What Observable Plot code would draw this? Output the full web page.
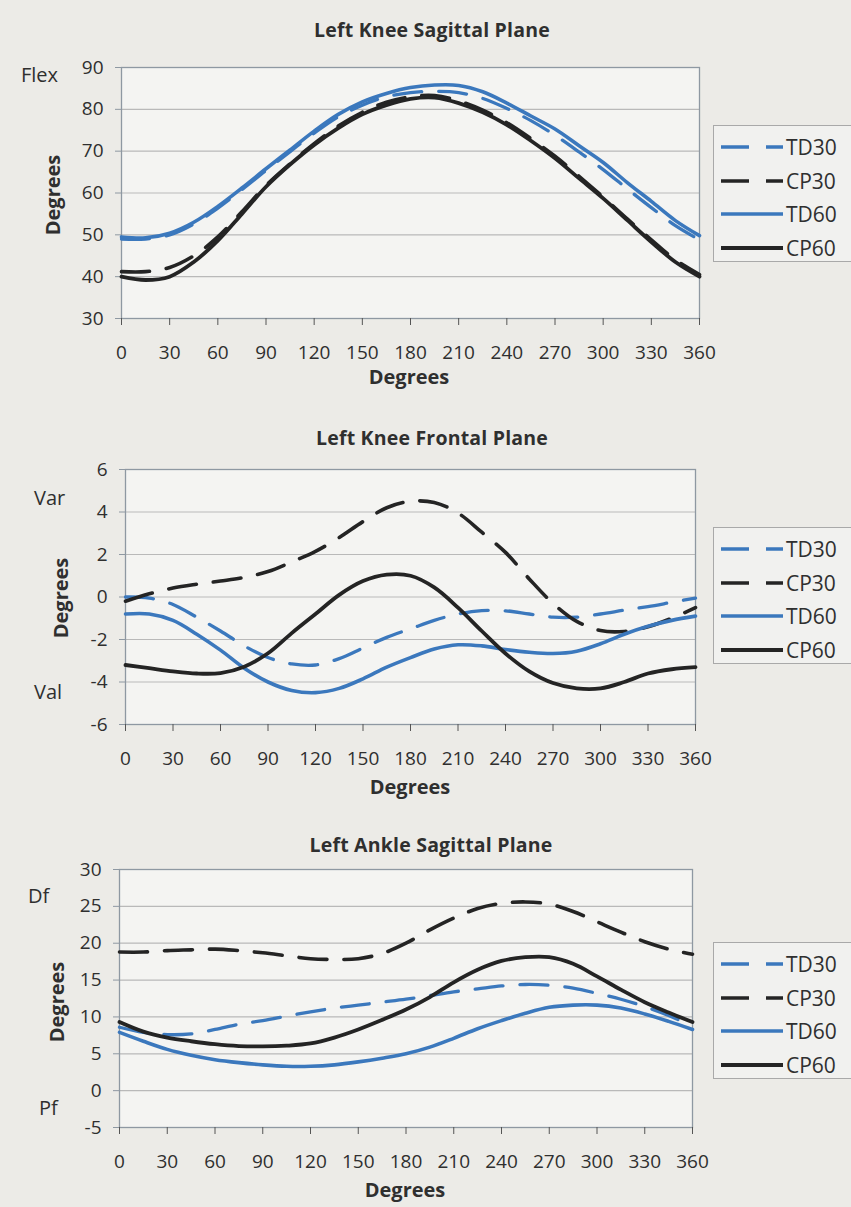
<!DOCTYPE html>
<html>
<head>
<meta charset="utf-8">
<script src="https://cdn.jsdelivr.net/npm/d3@7"></script>
<script src="https://cdn.jsdelivr.net/npm/@observablehq/plot@0.6"></script>
<style>
  html, body { margin: 0; padding: 0; background: #ecebe7; }
  #page { position: relative; width: 851px; height: 1207px; overflow: hidden; background: #ecebe7;
          font-family: "Open Sans", "DejaVu Sans", sans-serif; color: #2f2f2f; }
  .abs { position: absolute; white-space: nowrap; line-height: 1; }
  .center { transform: translate(-50%, -50%); }
  .title { font-weight: bold; font-size: 19.5px; letter-spacing: 0.2px; }
  .axt { font-weight: bold; font-size: 20px; }
  .side { font-size: 20px; transform: translateY(-50%); }
  .rot { font-weight: bold; font-size: 20px; transform: translate(-50%, -50%) rotate(-90deg); }
  .legend { position: absolute; left: 713px; width: 150px; border: 1px solid #a9a9a9; background: #f1f1ef;
            box-sizing: border-box; padding: 4px 0 0 6px; }
  .legend .row { display: flex; align-items: center; height: 33.7px; font-size: 21px; }
  .legend svg { display: block; margin-right: 2px; }
  .panel { position: absolute; left: 0; }
</style>
</head>
<body>
<div id="page"></div>
<script>
// ---------- data ----------
const angles = [0,15,30,45,60,75,90,105,120,135,150,165,180,195,210,225,240,255,270,285,300,315,330,345,360];
const xTicks = [0,30,60,90,120,150,180,210,240,270,300,330,360];
const seriesNames = ["TD30", "CP30", "TD60", "CP60"];

// Left Knee Sagittal Plane
const kneeSagTD30 = [49.0,49.0,50.0,52.6,56.4,60.8,65.4,69.9,74.3,78.2,81.0,83.0,84.0,84.3,84.0,82.6,80.2,77.3,73.8,69.8,65.6,61.0,56.5,52.2,48.8];
const kneeSagCP30 = [41.2,41.2,42.2,45.0,49.5,55.5,61.8,67.0,71.8,76.0,79.3,81.7,83.0,83.3,82.0,79.8,76.8,73.0,68.8,64.0,59.0,53.8,48.8,44.0,40.5];
const kneeSagTD60 = [49.5,49.3,50.4,53.0,56.8,61.2,65.8,70.3,74.8,78.8,81.8,83.8,85.2,85.8,85.7,84.2,81.5,78.4,75.3,71.3,67.3,62.5,58.0,53.4,49.8];
const kneeSagCP60 = [40.0,39.2,40.0,43.5,48.6,55.0,61.5,66.8,71.5,75.5,78.8,81.0,82.5,82.8,81.5,79.3,76.3,72.5,68.3,63.5,58.7,53.5,48.3,43.5,40.0];
const kneeSagTicks = [30,40,50,60,70,80,90];

// Left Knee Frontal Plane
const kneeFrTD30 = [0.0,-0.05,-0.35,-0.95,-1.6,-2.3,-2.85,-3.15,-3.2,-2.9,-2.4,-1.9,-1.5,-1.1,-0.8,-0.64,-0.65,-0.8,-0.95,-0.95,-0.8,-0.62,-0.45,-0.25,-0.05];
const kneeFrCP30 = [-0.2,0.15,0.42,0.6,0.75,0.92,1.2,1.65,2.15,2.8,3.55,4.2,4.5,4.45,3.95,3.05,2.1,0.85,-0.3,-1.15,-1.58,-1.62,-1.4,-1.0,-0.5];
const kneeFrTD60 = [-0.8,-0.8,-1.1,-1.75,-2.5,-3.35,-4.0,-4.4,-4.5,-4.3,-3.85,-3.3,-2.85,-2.45,-2.25,-2.3,-2.47,-2.6,-2.66,-2.55,-2.2,-1.75,-1.38,-1.1,-0.9];
const kneeFrCP60 = [-3.2,-3.35,-3.5,-3.6,-3.58,-3.28,-2.65,-1.7,-0.8,0.1,0.75,1.05,1.0,0.45,-0.5,-1.6,-2.66,-3.5,-4.05,-4.3,-4.3,-4.0,-3.6,-3.4,-3.3];
const kneeFrTicks = [-6,-4,-2,0,2,4,6];

// Left Ankle Sagittal Plane
const ankleSagTD30 = [8.6,7.9,7.6,7.7,8.3,9.0,9.5,10.1,10.7,11.2,11.6,12.0,12.4,12.9,13.4,13.8,14.2,14.4,14.3,13.9,13.2,12.4,11.4,10.2,8.7];
const ankleSagCP30 = [18.8,18.8,19.0,19.1,19.2,19.0,18.7,18.3,17.9,17.8,17.9,18.6,20.0,21.8,23.4,24.7,25.4,25.6,25.3,24.3,22.9,21.5,20.2,19.2,18.5];
const ankleSagTD60 = [7.9,6.7,5.6,4.8,4.2,3.8,3.5,3.3,3.3,3.5,3.9,4.4,5.0,5.9,7.1,8.4,9.5,10.5,11.3,11.6,11.6,11.2,10.4,9.4,8.3];
const ankleSagCP60 = [9.3,8.0,7.2,6.7,6.3,6.05,6.0,6.1,6.4,7.2,8.3,9.6,11.0,12.7,14.7,16.4,17.6,18.1,18.1,17.2,15.5,13.7,12.0,10.6,9.3];
const ankleSagTicks = [-5,0,5,10,15,20,25,30];

// ---------- styles ----------
const BLUE = "#3b78bd";
const BLACK = "#242424";
const seriesStyle = {
  TD30: {stroke: BLUE, dash: "28 17", width: 3.3},
  CP30: {stroke: BLACK, dash: "28 17", width: 3.6},
  TD60: {stroke: BLUE, dash: null, width: 3.6},
  CP60: {stroke: BLACK, dash: null, width: 3.8}
};

function table(arrs) {
  const rows = [];
  seriesNames.forEach((name, i) => {
    angles.forEach((a, j) => rows.push({series: name, angle: a, value: arrs[i][j]}));
  });
  return rows;
}

function chart(cfg) {
  const data = table(cfg.series);
  const lineMarks = seriesNames.map(name => {
    const s = seriesStyle[name];
    const opts = {x: "angle", y: "value", stroke: s.stroke, strokeWidth: s.width, curve: "catmull-rom",
                  filter: d => d.series === name};
    if (s.dash) opts.strokeDasharray = s.dash;
    return Plot.line(data, opts);
  });
  return Plot.plot({
    width: 851, height: cfg.height,
    marginTop: cfg.mt, marginBottom: cfg.mb, marginLeft: cfg.ml, marginRight: cfg.mr,
    style: {background: "transparent", fontFamily: '"Open Sans", sans-serif', color: "#2f2f2f", overflow: "visible"},
    x: {domain: [0, 360]},
    y: {domain: cfg.domain},
    marks: [
      Plot.frame({fill: "#f4f4f2", stroke: "none"}),
      Plot.gridY(cfg.ticks, {stroke: "#b9b9b9", strokeOpacity: 1, strokeWidth: 1.2}),
      Plot.frame({stroke: "#8e98a2", strokeWidth: 1.3}),
      Plot.axisY(cfg.ticks, {tickSize: 6, tickPadding: 12, fontSize: 19, label: null, stroke: "#8e98a2",
                             tickFormat: d => String(d)}),
      Plot.axisX(xTicks, {tickSize: 7, tickPadding: 20, fontSize: 19, label: null, stroke: "#555",
                          tickFormat: d => String(d)}),
      ...lineMarks
    ]
  });
}

const page = document.getElementById("page");
function addText(txt, cls, left, top) {
  const d = document.createElement("div");
  d.className = "abs " + cls;
  d.style.left = left + "px";
  d.style.top = top + "px";
  d.textContent = txt;
  page.appendChild(d);
}
function addLegend(top) {
  const box = document.createElement("div");
  box.className = "legend";
  box.style.top = top + "px";
  box.style.height = "137px";
  seriesNames.forEach(name => {
    const s = seriesStyle[name];
    const row = document.createElement("div");
    row.className = "row";
    row.innerHTML = `<svg width="64" height="10"><line x1="1" y1="5" x2="63" y2="5" stroke="${s.stroke}" stroke-width="${s.width}" ${s.dash ? `stroke-dasharray="${s.dash}"` : ""}/></svg><span>${name}</span>`;
    box.appendChild(row);
  });
  page.appendChild(box);
}

const panels = [
  {top: 0, height: 400, mt: 67, mb: 82, ml: 121, mr: 152, domain: [30, 90], ticks: kneeSagTicks,
   series: [kneeSagTD30, kneeSagCP30, kneeSagTD60, kneeSagCP60]},
  {top: 400, height: 400, mt: 69, mb: 76, ml: 125, mr: 156, domain: [-6, 6], ticks: kneeFrTicks,
   series: [kneeFrTD30, kneeFrCP30, kneeFrTD60, kneeFrCP60]},
  {top: 800, height: 407, mt: 69, mb: 80, ml: 119, mr: 159, domain: [-5, 30], ticks: ankleSagTicks,
   series: [ankleSagTD30, ankleSagCP30, ankleSagTD60, ankleSagCP60]}
];
panels.forEach(p => {
  const svg = chart(p);
  svg.classList.add("panel");
  svg.style.top = p.top + "px";
  svg.style.position = "absolute";
  page.appendChild(svg);
});

// titles & labels
addText("Left Knee Sagittal Plane", "title center", 432, 30);
addText("Flex", "side", 21, 75);
addText("Degrees", "rot", 53, 195);
addText("Degrees", "axt center", 409, 377);
addLegend(125);

addText("Left Knee Frontal Plane", "title center", 432, 438);
addText("Var", "side", 34, 498);
addText("Val", "side", 34, 692);
addText("Degrees", "rot", 61, 598);
addText("Degrees", "axt center", 410, 787);
addLegend(527);

addText("Left Ankle Sagittal Plane", "title center", 431, 845);
addText("Df", "side", 28, 896);
addText("Pf", "side", 39, 1108);
addText("Degrees", "rot", 57, 1002);
addText("Degrees", "axt center", 405, 1190);
addLegend(942);
</script>
</body>
</html>
